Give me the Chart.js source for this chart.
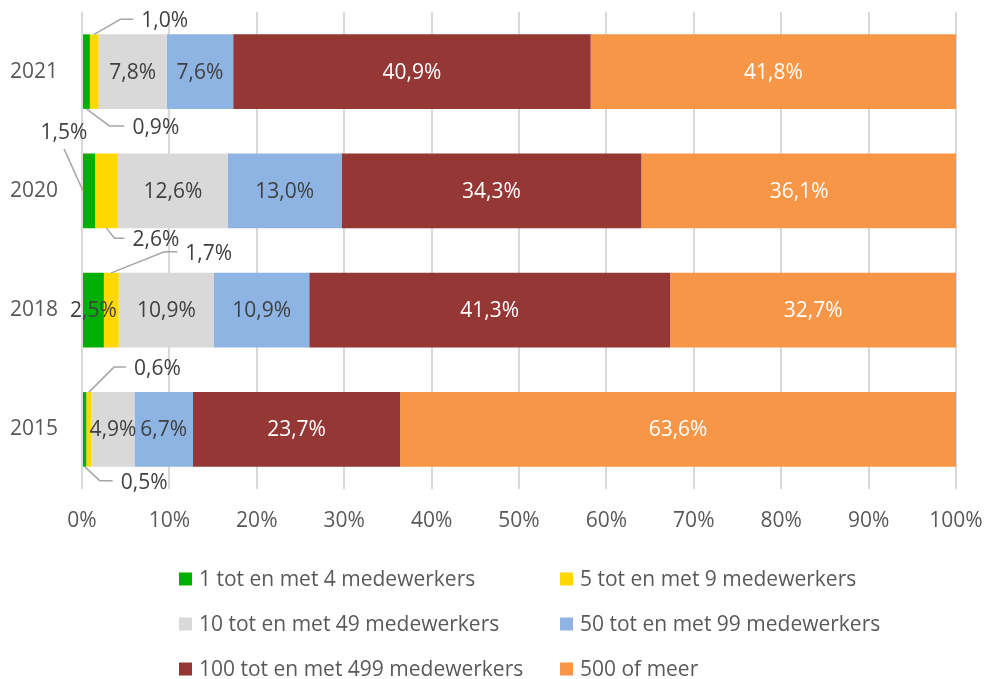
<!DOCTYPE html>
<html>
<head>
<meta charset="utf-8">
<script src="https://cdn.jsdelivr.net/npm/chart.js@4/dist/chart.umd.min.js"></script>
<style>
  html, body { margin: 0; padding: 0; background: #fff; }
  #wrap { width: 987px; height: 679px; }
</style>
</head>
<body>
<div id="wrap"><canvas id="chart" width="987" height="679"></canvas></div>
<script>
const years = ['2021', '2020', '2018', '2015']
const seriesNames = [
  '1 tot en met 4 medewerkers', '5 tot en met 9 medewerkers',
  '10 tot en met 49 medewerkers', '50 tot en met 99 medewerkers',
  '100 tot en met 499 medewerkers', '500 of meer'
]
const size1to4 = [0.9, 1.5, 2.5, 0.5]
const size5to9 = [1.0, 2.6, 1.7, 0.6]
const size10to49 = [7.8, 12.6, 10.9, 4.9]
const size50to99 = [7.6, 13.0, 10.9, 6.7]
const size100to499 = [40.9, 34.3, 41.3, 23.7]
const size500plus = [41.8, 36.1, 32.7, 63.6]
const xTicks = [0, 10, 20, 30, 40, 50, 60, 70, 80, 90, 100]

const seriesColors = ['#00B000', '#FFD800', '#D9D9D9', '#8EB4E3', '#953735', '#F79646']
const labelColors = ['#404040', '#404040', '#404040', '#404040', '#FFFFFF', '#FFFFFF']
const FONT = "'Open Sans', sans-serif"
const FSIZE = 21
const textGray = '#595959'

// small segments get their label outside, on a leader line
// key: dataset-category, anchor on the segment, elbow offset, line end dx
const callouts = {
  '1-0': { anchor: 'top', elbow: [26, -15], end: 39 },
  '0-0': { anchor: 'bottom', elbow: [23, 17], end: 38 },
  '0-1': { anchor: 'left', elbow: [-19, -42], above: true },
  '1-1': { anchor: 'bottom', elbow: [8, 10], end: 18 },
  '1-2': { anchor: 'top', elbow: [53, -21], end: 66 },
  '1-3': { anchor: 'top', elbow: [25, -25], end: 37 },
  '0-3': { anchor: 'bottom', elbow: [15, 14], end: 28 }
}

const fmt = v => v.toFixed(1).replace('.', ',') + '%'

const barLabels = {
  id: 'barLabels',
  afterDatasetsDraw(chart) {
    const ctx = chart.ctx
    ctx.save()
    ctx.font = FSIZE + 'px ' + FONT
    chart.data.datasets.forEach((ds, i) => {
      const meta = chart.getDatasetMeta(i)
      meta.data.forEach((bar, j) => {
        const text = fmt(ds.data[j])
        const cx = (bar.x + bar.base) / 2
        const c = callouts[i + '-' + j]
        if (!c) {
          ctx.fillStyle = labelColors[i]
          ctx.textAlign = 'center'
          ctx.textBaseline = 'middle'
          ctx.fillText(text, cx, bar.y + 1)
          return
        }
        let ax = cx, ay = bar.y
        if (c.anchor === 'top') ay = bar.y - bar.height / 2
        if (c.anchor === 'bottom') ay = bar.y + bar.height / 2
        if (c.anchor === 'left') ax = bar.base
        const ex = ax + c.elbow[0], ey = ay + c.elbow[1]
        ctx.strokeStyle = '#A6A6A6'
        ctx.lineWidth = 1.5
        ctx.beginPath()
        ctx.moveTo(ax, ay)
        ctx.lineTo(ex, ey)
        if (!c.above) ctx.lineTo(ax + c.end, ey)
        ctx.stroke()
        ctx.fillStyle = '#404040'
        ctx.textBaseline = 'middle'
        if (c.above) {
          ctx.textAlign = 'center'
          ctx.fillText(text, ex, ey - 16)
        } else {
          ctx.textAlign = 'left'
          ctx.fillText(text, ax + c.end + 8, ey + 2)
        }
      })
    })
    ctx.restore()
  }
}

const gridLegend = {
  id: 'gridLegend',
  afterDraw(chart) {
    const ctx = chart.ctx
    const cols = [179, 560]
    const rows = [579, 624, 669]
    ctx.save()
    ctx.font = FSIZE + 'px ' + FONT
    ctx.textAlign = 'left'
    ctx.textBaseline = 'middle'
    chart.data.datasets.forEach((ds, i) => {
      const x = cols[i % 2], y = rows[Math.floor(i / 2)]
      ctx.fillStyle = ds.backgroundColor
      ctx.fillRect(x, y - 6.5, 13, 13)
      ctx.fillStyle = textGray
      ctx.fillText(ds.label, x + 20, y + 1)
    })
    ctx.restore()
  }
}

const allSeries = [size1to4, size5to9, size10to49, size50to99, size100to499, size500plus]

new Chart(document.getElementById('chart'), {
  type: 'bar',
  data: {
    labels: years,
    datasets: allSeries.map((d, i) => ({
      label: seriesNames[i],
      data: d,
      backgroundColor: seriesColors[i],
      borderWidth: 0,
      barPercentage: 0.625,
      categoryPercentage: 1.0
    }))
  },
  options: {
    indexAxis: 'y',
    responsive: false,
    animation: false,
    layout: { padding: { top: 12, right: 31, bottom: 140, left: 0 } },
    scales: {
      x: {
        stacked: true, min: 0, max: 100,
        afterBuildTicks: s => { s.ticks = xTicks.map(v => ({ value: v })) },
        afterFit: s => { s.height = 50; s.paddingLeft = 0; s.paddingRight = 0 },
        ticks: { callback: v => v + '%', color: textGray, font: { family: FONT, size: FSIZE }, padding: 19, maxRotation: 0 },
        grid: { color: '#D9D9D9', lineWidth: 2, drawTicks: false },
        border: { display: false }
      },
      y: {
        stacked: true,
        afterFit: s => { s.width = 82; s.paddingTop = 0; s.paddingBottom = 0 },
        ticks: { color: textGray, font: { family: FONT, size: FSIZE }, padding: 24 },
        grid: { display: false, drawTicks: false },
        border: { display: false }
      }
    },
    plugins: { legend: { display: false }, tooltip: { enabled: false } }
  },
  plugins: [barLabels, gridLegend]
})
</script>
</body>
</html>
